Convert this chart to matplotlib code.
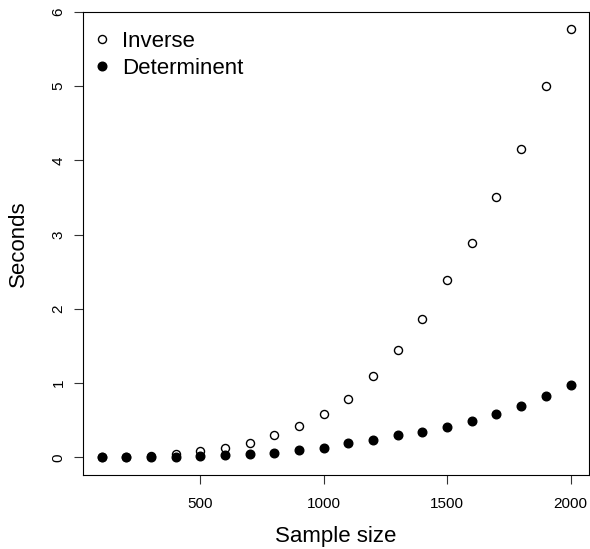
import matplotlib
matplotlib.use("Agg")
import numpy as np
import matplotlib.pyplot as plt

plt.rcParams['font.family'] = ['Liberation Sans', 'DejaVu Sans']

# sample sizes and timings (seconds)
n = [100, 200, 300, 400, 500, 600, 700, 800, 900, 1000,
     1100, 1200, 1300, 1400, 1500, 1600, 1700, 1800, 1900, 2000]
inverse = [0.00, 0.01, 0.02, 0.05, 0.08, 0.12, 0.19, 0.30, 0.42, 0.58,
           0.78, 1.09, 1.44, 1.86, 2.39, 2.89, 3.51, 4.15, 5.00, 5.77]
determinent = [0.00, 0.00, 0.00, 0.00, 0.02, 0.03, 0.04, 0.06, 0.10, 0.12,
               0.19, 0.23, 0.30, 0.34, 0.41, 0.49, 0.58, 0.69, 0.83, 0.97]

fig = plt.figure(figsize=(5.9, 5.49), dpi=100)
ax = fig.add_axes([0.1403, 0.1357, 0.8585, 0.8424])

ax.plot(n, inverse, 'o', mfc='white', mec='black', mew=1.0, ms=5.8, label='Inverse')
ax.plot(n, determinent, 'o', mfc='black', mec='black', ms=6.2, label='Determinent')

ax.set_xlim(24, 2076)
ax.set_ylim(-0.2308, 6.0)
ax.set_xticks([500, 1000, 1500, 2000])
ax.set_yticks([0, 1, 2, 3, 4, 5, 6])
ax.tick_params(axis='both', labelsize=11, length=6.5, width=0.8, color='#333333')
ax.tick_params(axis='x', pad=9.5)
ax.tick_params(axis='y', pad=6)
for lab in ax.get_yticklabels():
    lab.set_rotation(90)
    lab.set_va('center')

for s in ax.spines.values():
    s.set_linewidth(0.8)

ax.set_xlabel('Sample size', fontsize=16, labelpad=11)
ax.set_ylabel('Seconds', fontsize=16, labelpad=16)

ax.legend(loc='upper left', bbox_to_anchor=(0.0162, 0.96), frameon=False, fontsize=16,
          handletextpad=0.40, labelspacing=0.27, borderaxespad=0, borderpad=0,
          handlelength=1.0, markerscale=1.0)

fig.savefig('out.png', dpi=100)
